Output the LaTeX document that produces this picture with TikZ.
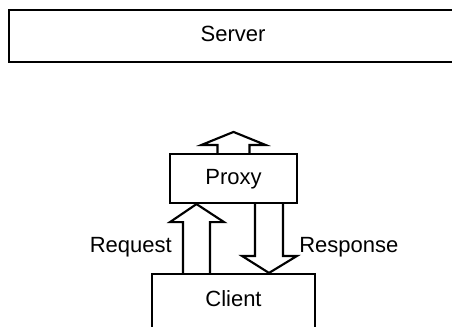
\documentclass[tikz,border=0pt]{standalone}
\usepackage{fontspec}
\setmainfont{Liberation Sans}
\usetikzlibrary{calc}
\begin{document}
\begin{tikzpicture}[x=0.75pt,y=-0.75pt,
  every node/.style={font=\fontsize{16.5}{19}\selectfont},
  box/.style={draw, line width=1.6pt, rectangle, inner sep=0pt, text height=11.8pt, text depth=3.2pt},
  blockarrow/.style={draw, line width=1.6pt, line join=miter},
  lbl/.style={inner sep=0pt, text height=11.8pt, text depth=0pt}]
\useasboundingbox (0,0) rectangle (452,326);
\node[box, minimum width=336pt, minimum height=39pt] (server) at (233,36) {Server};
\node[box, minimum width=95.25pt, minimum height=36.75pt] (proxy) at (233.5,178.5) {Proxy};
\node[box, minimum width=122.25pt, minimum height=40.5pt] (client) at (233.5,301) {Client};
% upward arrow out of proxy
\draw[blockarrow] ($(proxy.north)+(-16,0)$) -- ($(proxy.north)+(-16,-8)$) -- ($(proxy.north)+(-32,-8)$)
  -- ($(proxy.north)+(0,-21)$) -- ($(proxy.north)+(32,-8)$) -- ($(proxy.north)+(16,-8)$) -- ($(proxy.north)+(16,0)$);
% request arrow client -> proxy
\draw[blockarrow] ($(client.north)+(-50.5,0)$) -- ($(proxy.south)+(-50.5,18)$) -- ($(proxy.south)+(-63.5,18)$)
  -- ($(proxy.south)+(-37,0)$) -- ($(proxy.south)+(-9.5,18)$) -- ($(proxy.south)+(-23.5,18)$) -- ($(client.north)+(-23.5,0)$);
% response arrow proxy -> client
\draw[blockarrow] ($(proxy.south)+(21.5,0)$) -- ($(client.north)+(21.5,-17)$) -- ($(client.north)+(8.5,-17)$)
  -- ($(client.north)+(35.5,0)$) -- ($(client.north)+(63.5,-17)$) -- ($(client.north)+(49.5,-17)$) -- ($(proxy.south)+(49.5,0)$);
\node[lbl, anchor=east] (reqlabel) at (172,245) {Request};
\node[lbl, anchor=west] (resplabel) at (299,245) {Response};
\end{tikzpicture}
\end{document}
